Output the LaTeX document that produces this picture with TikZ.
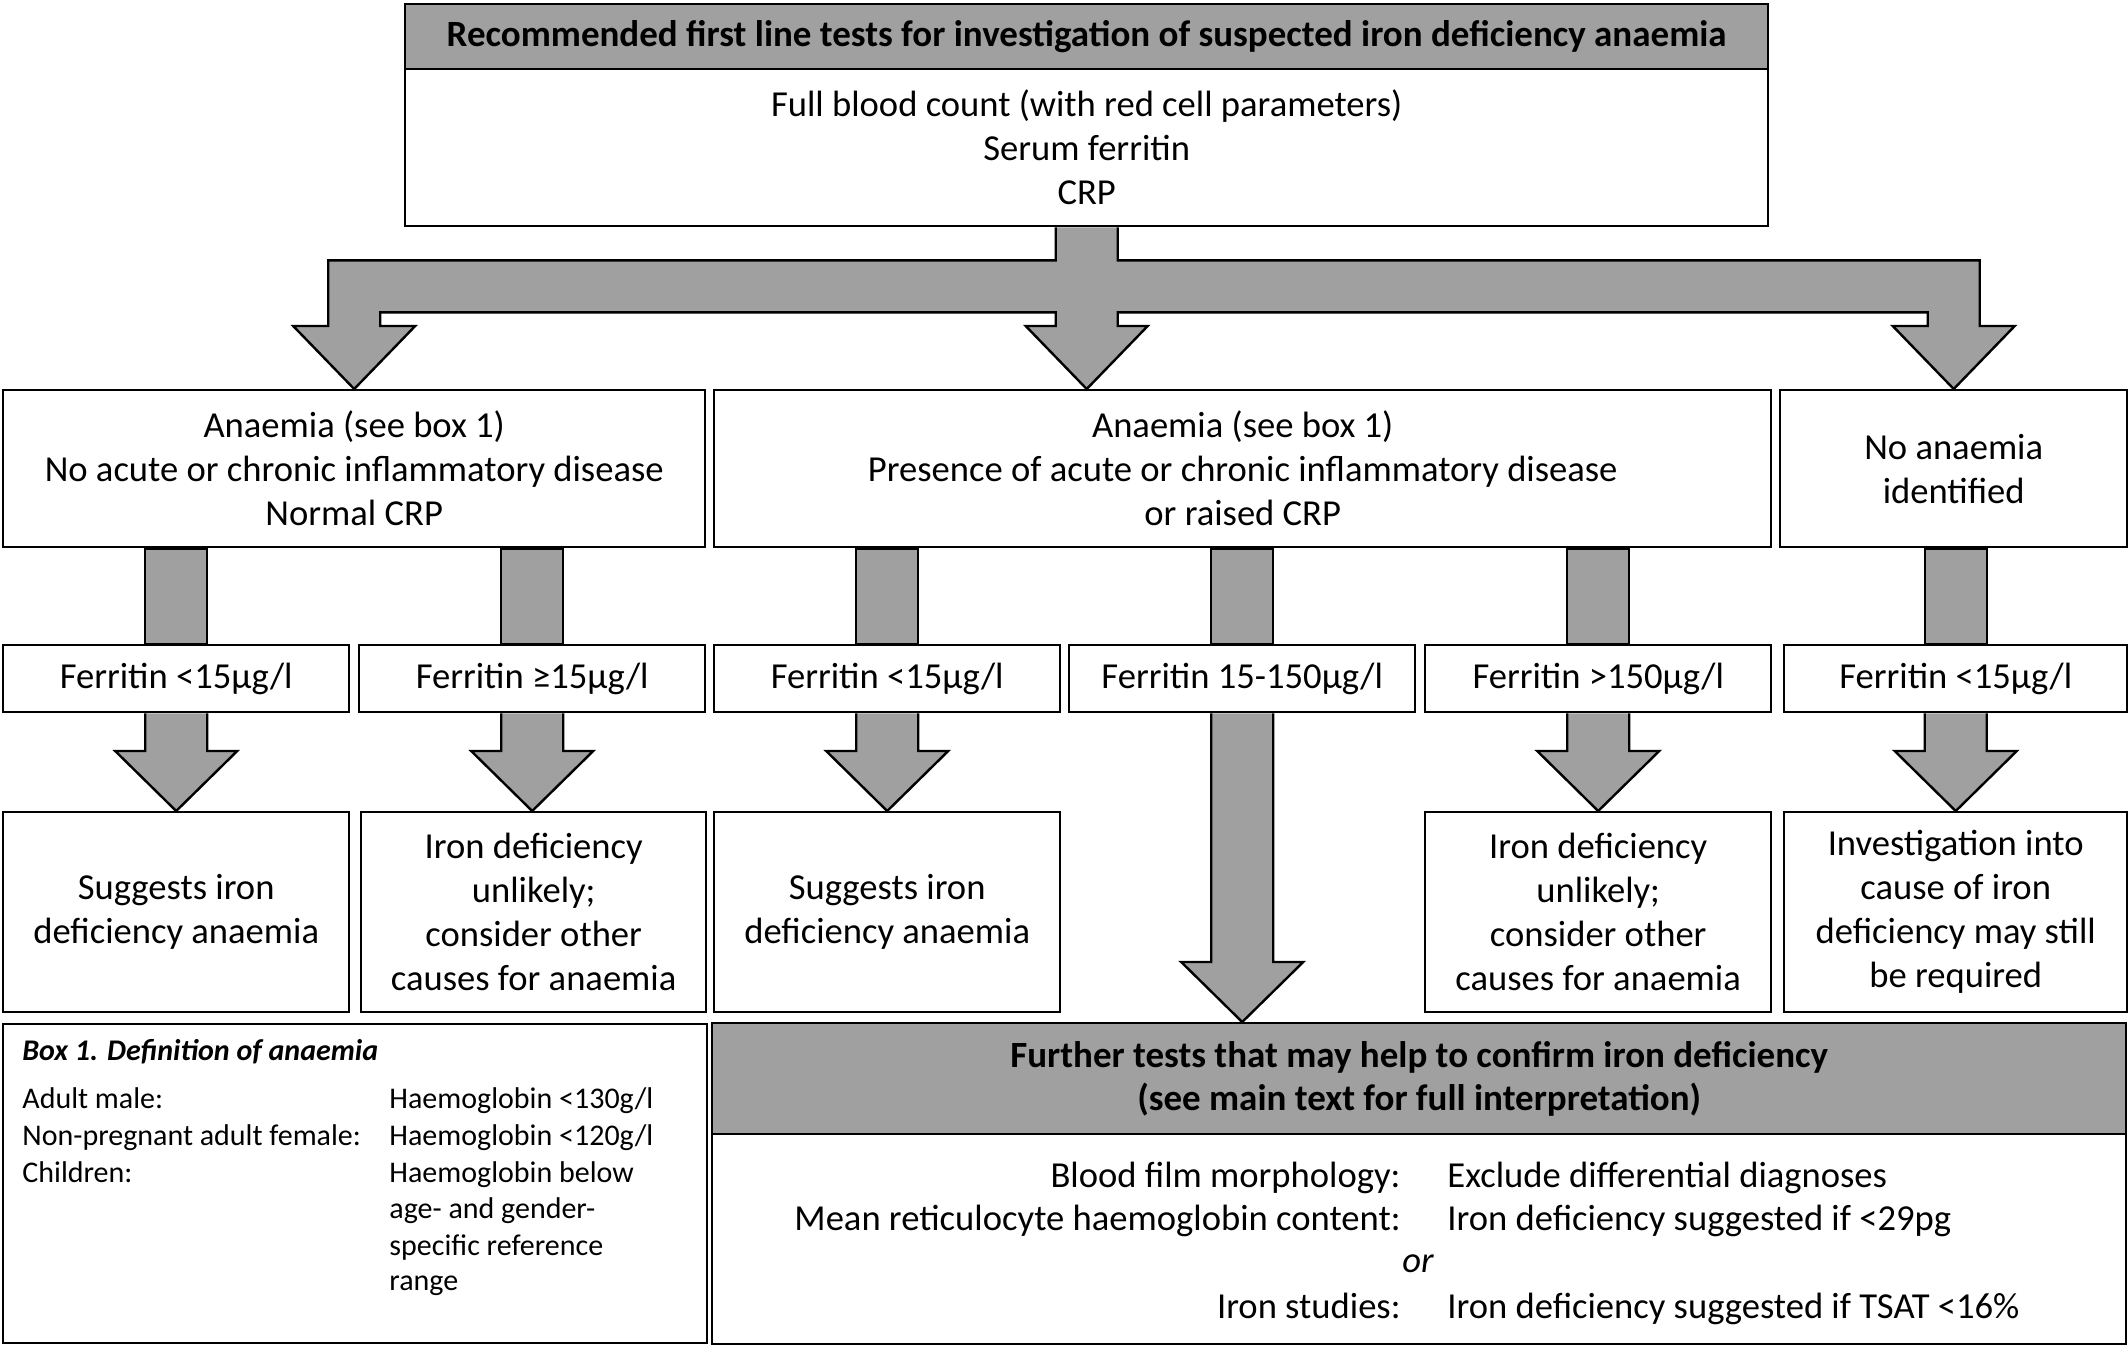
\documentclass[tikz,border=0pt]{standalone}
\usepackage{fontspec}
\setmainfont{Carlito}
\usetikzlibrary{calc}
\definecolor{fillgray}{RGB}{160,160,160}
\newcommand\rbox[7]{\node[#1, minimum width={(#5-#3)*0.5pt}, minimum height={(#6-#4)*0.5pt}] (#2) at (#3,#4) {#7};}
\newcommand\plainbar[2]{\draw[fat] let \p1=(#1.south), \p2=(#2.north) in (\x2-15.5pt,\y1) rectangle (\x2+15.5pt,\y2);}
\newcommand\headarrow[2]{\draw[fat] let \p1=(#1.south), \p2=(#2.north) in (\x1-15.5pt,\y1) -- (\x1-15.5pt,\y2+30pt) -- (\x1-30.5pt,\y2+30pt) -- (\x1,\y2) -- (\x1+30.5pt,\y2+30pt) -- (\x1+15.5pt,\y2+30pt) -- (\x1+15.5pt,\y1);}
\begin{document}
\begin{tikzpicture}[x=0.5pt,y=-0.5pt,
  box/.style={draw=black, line width=1.2pt, fill=white, align=center, inner sep=0pt, anchor=north west, font=\fontsize{18.3}{22}\selectfont},
  hdr/.style={box, fill=fillgray, font=\fontsize{18.5}{21.5}\selectfont\bfseries},
  fat/.style={draw=black, line width=1.2pt, fill=fillgray, line join=miter},
  b1txt/.style={inner sep=0pt, anchor=base west, font=\fontsize{15}{18.5}\selectfont},
  ftl/.style={inner sep=0pt, anchor=base east, font=\fontsize{18.3}{22}\selectfont},
  ftv/.style={inner sep=0pt, anchor=base west, font=\fontsize{18.3}{22}\selectfont}]
\useasboundingbox (0,0) rectangle (2128,1344);
% top
\rbox{hdr}{top}{404}{3}{1767}{68}{Recommended first line tests for investigation of suspected iron deficiency anaemia}
\rbox{box}{topb}{404}{68}{1767}{225}{Full blood count (with red cell parameters)\\Serum ferritin\\CRP}
% row 2
\rbox{box}{ra}{2}{389}{704}{546}{Anaemia (see box 1)\\No acute or chronic inflammatory disease\\Normal CRP}
\rbox{box}{rb}{713}{389}{1770}{546}{Anaemia (see box 1)\\Presence of acute or chronic inflammatory disease\\or raised CRP}
\rbox{box}{rc}{1779}{389}{2126}{546}{No anaemia\\identified}
% ferritin row
\rbox{box}{fa}{2}{644}{348}{711}{Ferritin <15µg/l}
\rbox{box}{fb}{358}{644}{704}{711}{Ferritin ≥15µg/l}
\rbox{box}{fc}{713}{644}{1059}{711}{Ferritin <15µg/l}
\rbox{box}{fd}{1068}{644}{1414}{711}{Ferritin 15-150µg/l}
\rbox{box}{fe}{1424}{644}{1770}{711}{Ferritin >150µg/l}
\rbox{box}{ff}{1783}{644}{2126}{711}{Ferritin <15µg/l}
% outcomes
\rbox{box}{oa}{2}{811}{348}{1011}{Suggests iron\\deficiency anaemia}
\rbox{box}{ob}{360}{811}{705}{1011}{Iron deficiency\\unlikely;\\consider other\\causes for anaemia}
\rbox{box}{oc}{713}{811}{1059}{1011}{Suggests iron\\deficiency anaemia}
\rbox{box}{oe}{1424}{811}{1770}{1011}{Iron deficiency\\unlikely;\\consider other\\causes for anaemia}
\rbox{box}{of}{1783}{811}{2126}{1011}{Investigation into\\cause of iron\\deficiency may still\\be required}
% box 1
\rbox{box}{boxone}{2}{1023}{706}{1342}{}
\node[b1txt] (b1t) at (22,1060) {\bfseries\itshape Box 1. Definition of anaemia};
\node[b1txt] (b1a) at (22,1108) {Adult male:};
\node[b1txt] (b1b) at (22,1145) {Non-pregnant adult female:};
\node[b1txt] (b1c) at (22,1182) {Children:};
\node[b1txt] (b1d) at (389,1108) {Haemoglobin <130g/l};
\node[b1txt] (b1e) at (389,1145) {Haemoglobin <120g/l};
\node[b1txt] (b1f) at (389,1182) {Haemoglobin below};
\node[b1txt] (b1g) at (389,1218) {age- and gender-};
\node[b1txt] (b1h) at (389,1255) {specific reference};
\node[b1txt] (b1i) at (389,1290) {range};
% further tests
\rbox{hdr}{fth}{711}{1022}{2125}{1133}{Further tests that may help to confirm iron deficiency\\(see main text for full interpretation)}
\rbox{box}{ftb}{711}{1133}{2125}{1343}{}
\node[ftl] (l1) at (1401,1187) {Blood film morphology:};
\node[ftl] (l2) at (1401,1230) {Mean reticulocyte haemoglobin content:};
\node[ftl] (l3) at (1401,1318) {Iron studies:};
\node[ftv] (v1) at (1447,1187) {Exclude differential diagnoses};
\node[ftv] (v2) at (1447,1230) {Iron deficiency suggested if <29pg};
\node[ftv] (v3) at (1447,1318) {Iron deficiency suggested if TSAT <16\%};
\node[inner sep=0pt, anchor=base, font=\fontsize{18.3}{22}\selectfont\itshape] (orr) at (1418,1272) {or};
% main splitter arrow
\draw[fat] let \p0=(topb.south), \p1=(ra.north), \p2=(rc.north) in
 (\x0-15.5pt,\y0) -- (\x0-15.5pt,\y0-16.5pt) -- (\x1-13pt,\y0-16.5pt) -- (\x1-13pt,\y1+31.5pt) -- (\x1-30.5pt,\y1+31.5pt) -- (\x1,\y1) -- (\x1+30.5pt,\y1+31.5pt) -- (\x1+13pt,\y1+31.5pt) -- (\x1+13pt,\y0-42.5pt) -- (\x0-15.5pt,\y0-42.5pt) -- (\x0-15.5pt,\y1+31.5pt) -- (\x0-30.5pt,\y1+31.5pt) -- (\x0,\y1) -- (\x0+30.5pt,\y1+31.5pt) -- (\x0+15.5pt,\y1+31.5pt) -- (\x0+15.5pt,\y0-42.5pt) -- (\x2-13pt,\y0-42.5pt) -- (\x2-13pt,\y1+31.5pt) -- (\x2-30.5pt,\y1+31.5pt) -- (\x2,\y2) -- (\x2+30.5pt,\y1+31.5pt) -- (\x2+13pt,\y1+31.5pt) -- (\x2+13pt,\y0-16.5pt) -- (\x0+15.5pt,\y0-16.5pt) -- (\x0+15.5pt,\y0);
% bars
\plainbar{ra}{fa}
\plainbar{ra}{fb}
\plainbar{rb}{fc}
\plainbar{rb}{fd}
\plainbar{rb}{fe}
\plainbar{rc}{ff}
% heads
\headarrow{fa}{oa}
\headarrow{fb}{ob}
\headarrow{fc}{oc}
\headarrow{fe}{oe}
\headarrow{ff}{of}
\headarrow{fd}{fth}
\end{tikzpicture}
\end{document}
